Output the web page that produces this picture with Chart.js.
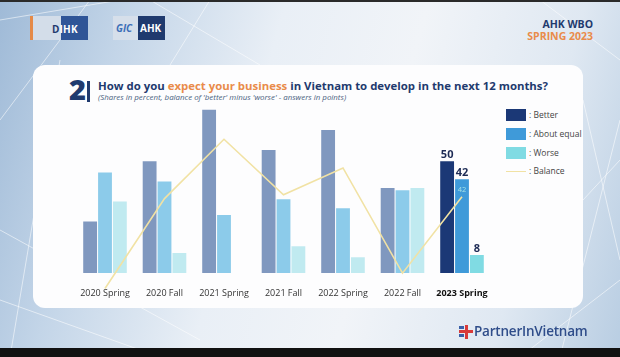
<!DOCTYPE html>
<html>
<head>
<meta charset="utf-8">
<script src="https://cdn.jsdelivr.net/npm/chart.js@4.4.0/dist/chart.umd.min.js"></script>
<style>
  html, body { margin:0; padding:0; }
  body { width:620px; height:357px; position:relative; overflow:hidden; font-family:"Open Sans", sans-serif;
    background: linear-gradient(105deg, #9fbad7 0%, #c3d5e8 18%, #e9eff6 40%, #f1f4f8 60%, #dfe8f2 82%, #b8cde2 100%); }
  #deco { position:absolute; left:0; top:0; }
  .panel { position:absolute; left:33px; top:65px; width:550px; height:243px; background:#fdfdfe; border-radius:12px; }
  .abs { position:absolute; white-space:nowrap; }
  #chart { position:absolute; left:0; top:0; }
  .leg { position:absolute; left:506px; font-size:8.5px; color:#444; }
  .leg .box { position:absolute; left:0; width:20px; height:12px; }
  .leg .txt { position:absolute; left:23px; white-space:nowrap; }
</style>
</head>
<body>
<svg id="deco" width="620" height="357">
  <g stroke="#ffffff" stroke-opacity="0.55" stroke-width="1" fill="none">
    <line x1="0" y1="20" x2="120" y2="0"/>
    <line x1="0" y1="120" x2="90" y2="0"/>
    <line x1="10" y1="357" x2="60" y2="60"/>
    <line x1="0" y1="300" x2="160" y2="357"/>
    <line x1="0" y1="230" x2="200" y2="340"/>
    <line x1="150" y1="0" x2="260" y2="65"/>
    <line x1="170" y1="65" x2="210" y2="0"/>
    <line x1="540" y1="0" x2="620" y2="60"/>
    <line x1="560" y1="357" x2="620" y2="120"/>
    <line x1="583" y1="100" x2="620" y2="260"/>
    <line x1="520" y1="357" x2="620" y2="280"/>
    <line x1="583" y1="200" x2="620" y2="160"/>
  </g>
</svg>
<div style="position:absolute;left:0;top:0;width:620px;height:2px;background:#2a2a2a"></div>

<!-- logos -->
<div class="abs" style="left:30px;top:16px;width:3px;height:24px;background:#e58a48"></div>
<div class="abs" style="left:33px;top:16px;width:55px;height:24px;background:#d3dde9"></div>
<div class="abs" style="left:61px;top:16px;width:27px;height:24px;background:#2f5597"></div>
<div class="abs" style="left:52px;top:22px;font-size:10px;font-weight:700;color:#1f3a6e;letter-spacing:0.2px">D<span style="color:#fff">IHK</span></div>
<div class="abs" style="left:113px;top:16px;width:52px;height:24px;background:#d6dfea"></div>
<div class="abs" style="left:138px;top:16px;width:27px;height:24px;background:#1f3a6e"></div>
<div class="abs" style="left:116px;top:21px;font-size:10px;font-weight:700;font-style:italic;color:#3e6fb8">GIC</div>
<div class="abs" style="left:140px;top:21px;font-size:10px;font-weight:700;color:#fff">AHK</div>

<div class="abs" style="right:27px;top:17px;font-size:10.5px;font-weight:700;color:#1f3a6e;text-align:right">AHK WBO</div>
<div class="abs" style="right:27px;top:29px;font-size:10.5px;font-weight:700;color:#e98b4a;text-align:right">SPRING 2023</div>

<div class="panel"></div>

<div class="abs" style="left:69px;top:72px;font-size:29px;font-weight:800;color:#1f3a6e;line-height:34px">2</div>
<div class="abs" style="left:87px;top:81px;width:2.5px;height:21px;background:#1f3a6e"></div>
<div class="abs" id="title" style="left:98px;top:78px;font-size:11.4px;font-weight:700;color:#1f3a6e">How do you <span style="color:#e98b4a">expect your business</span> in Vietnam to develop in the next 12 months?</div>
<div class="abs" id="sub" style="left:98px;top:92px;font-size:7.9px;font-style:italic;color:#4a5f80">(Shares in percent, balance of 'better' minus 'worse' - answers in points)</div>

<div id="legend"></div>

<canvas id="chart" width="620" height="357"></canvas>

<!-- footer logo -->
<div class="abs" style="left:459px;top:330px;width:14px;height:3px;background:#d83a3a"></div>
<div class="abs" style="left:465px;top:325px;width:3px;height:14px;background:#d83a3a"></div>
<div class="abs" style="left:459px;top:334px;width:5px;height:3px;background:#3a5fa8"></div>
<div class="abs" style="left:459px;top:326px;width:5px;height:3px;background:#3a5fa8"></div>
<div class="abs" style="left:474px;top:322px;font-size:13.5px;font-weight:600;color:#2f4d8a;letter-spacing:-0.2px">PartnerInVietnam</div>
<div style="position:absolute;left:0;top:348px;width:620px;height:9px;background:#111"></div>

<script>
const categories = ['2020 Spring','2020 Fall','2021 Spring','2021 Fall','2022 Spring','2022 Fall','2023 Spring'];
const better     = [23, 50, 73, 55, 64, 38, 50];
const aboutEqual = [45, 41, 26, 33, 29, 37, 42];
const worse      = [32,  9,  0, 12,  7, 38,  8];
const balance    = [-6, 41, 72, 43, 57,  2, 42];
const seriesNames = [': Better', ': About equal', ': Worse', ': Balance'];

const muted = ['#8098bf', '#8ccbea', '#c0eaf0'];
const highlight = ['#1b3876', '#3f9ad9', '#80dbe3'];
const lineColor = '#f1e2a4';
const last = categories.length - 1;

function colors(k) { return categories.map((c, i) => i === last ? highlight[k] : muted[k]); }

const barDefaults = { categoryPercentage: 0.75, barPercentage: 0.93, yAxisID: 'y', order: 1, borderWidth: 0 };

const labelPlugin = {
  id: 'labels',
  afterDatasetsDraw(chart) {
    const ctx = chart.ctx;
    ctx.save();
    ctx.textAlign = 'center';
    ctx.textBaseline = 'bottom';
    ctx.font = 'bold 11px "Open Sans", sans-serif';
    ctx.fillStyle = '#1d2b55';
    [0, 1, 2].forEach(d => {
      const el = chart.getDatasetMeta(d).data[last];
      const v = chart.data.datasets[d].data[last];
      ctx.fillText(String(v), el.x, el.y - 1);
    });
    const p = chart.getDatasetMeta(3).data[last];
    ctx.font = '7.5px "Open Sans", sans-serif';
    ctx.fillStyle = '#a4e2e6';
    ctx.fillText(String(balance[last]), p.x, p.y - 3);
    ctx.restore();
  }
};

const chart = new Chart(document.getElementById('chart'), {
  type: 'bar',
  data: {
    labels: categories,
    datasets: [
      Object.assign({ label: seriesNames[0], data: better, backgroundColor: colors(0) }, barDefaults),
      Object.assign({ label: seriesNames[1], data: aboutEqual, backgroundColor: colors(1) }, barDefaults),
      Object.assign({ label: seriesNames[2], data: worse, backgroundColor: colors(2) }, barDefaults),
      { type: 'line', label: seriesNames[3], data: balance, borderColor: lineColor, borderWidth: 1.6,
        pointRadius: 0, tension: 0, yAxisID: 'y2', order: 0, clip: false, fill: false }
    ]
  },
  options: {
    responsive: false,
    animation: false,
    events: [],
    layout: { padding: { left: 75.25, right: 128.25, top: 105.4, bottom: 43.2 } },
    plugins: { legend: { display: false }, tooltip: { enabled: false } },
    scales: {
      x: {
        grid: { display: false, drawTicks: false },
        border: { display: false },
        ticks: {
          padding: 15,
          color: c => c.index === last ? '#111' : '#333',
          font: c => ({ family: '"Open Sans", sans-serif', size: 9, weight: c.index === last ? 'bold' : 'normal' })
        }
      },
      y: { display: false, min: 0, max: 75 },
      y2: { display: false, min: 2.09, max: 89.7 }
    }
  },
  plugins: [labelPlugin]
});

// HTML legend built from the datasets
const legendTops = [109, 128, 147, 165];
const leg = document.getElementById('legend');
chart.data.datasets.forEach((ds, i) => {
  const item = document.createElement('div');
  item.className = 'leg';
  item.style.top = legendTops[i] + 'px';
  const box = document.createElement('div');
  box.className = 'box';
  if (ds.type === 'line') {
    box.style.height = '1.5px'; box.style.top = '5.5px'; box.style.background = ds.borderColor;
  } else {
    box.style.background = highlight[i];
  }
  const txt = document.createElement('div');
  txt.className = 'txt';
  txt.style.top = '-0.5px';
  txt.textContent = ds.label;
  item.appendChild(box); item.appendChild(txt);
  leg.appendChild(item);
});
</script>
</body>
</html>
